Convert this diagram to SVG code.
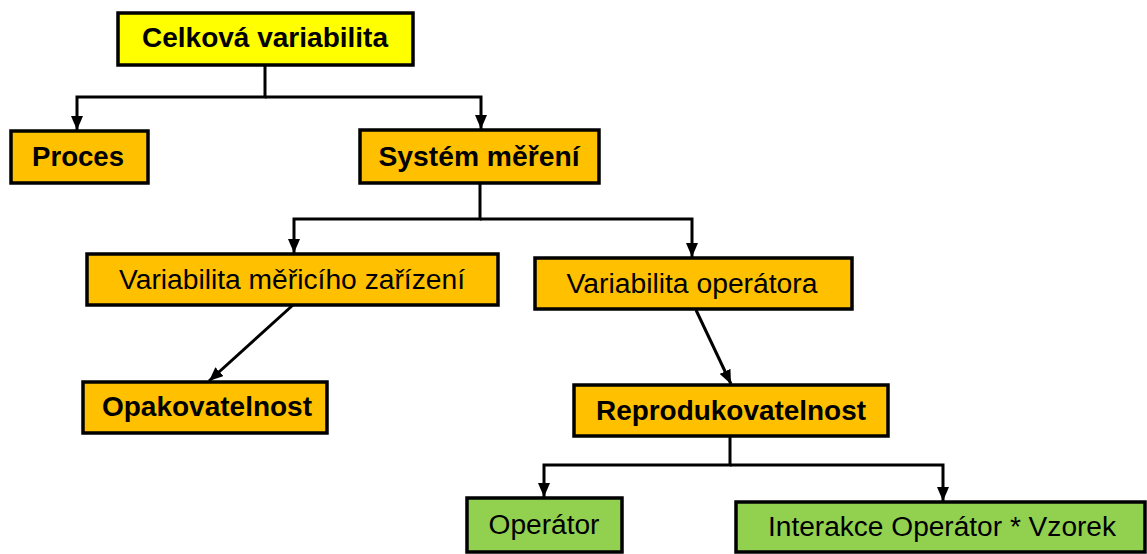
<svg xmlns="http://www.w3.org/2000/svg" width="1147" height="554" viewBox="0 0 1147 554">
<defs>
<style>
.box{stroke:#000;stroke-width:3.5}
.y{fill:#FFFF00}
.o{fill:#FFC000}
.g{fill:#92D050}
.t{font-family:"Liberation Sans",Arial,sans-serif;font-size:27px;fill:#000;text-anchor:middle}
.b{font-weight:bold}
.c{fill:none;stroke:#000;stroke-width:3}
</style>
<marker id="ah" viewBox="0 0 14 12" refX="14" refY="6" markerWidth="14" markerHeight="12" orient="auto" markerUnits="userSpaceOnUse">
<path d="M0,0 L14,6 L0,12 z" fill="#000"/>
</marker>
</defs>
<g id="connectors">
<path class="c" d="M265,65 V97 H77 V130" marker-end="url(#ah)"/>
<path class="c" d="M265,97 H481 V129" marker-end="url(#ah)"/>
<path class="c" d="M480,183 V219 H294 V253" marker-end="url(#ah)"/>
<path class="c" d="M480,219 H692 V257" marker-end="url(#ah)"/>
<path class="c" d="M293,305 L209,381" marker-end="url(#ah)"/>
<path class="c" d="M696,310 L731,384" marker-end="url(#ah)"/>
<path class="c" d="M730,436 V465 H544 V497" marker-end="url(#ah)"/>
<path class="c" d="M730,465 H943 V501" marker-end="url(#ah)"/>
</g>
<g id="celkova"><rect class="box y" x="118" y="13" width="295" height="52"/><text class="t b" x="265" y="47" textLength="246" lengthAdjust="spacingAndGlyphs">Celková variabilita</text></g>
<g id="proces"><rect class="box o" x="11" y="131" width="137" height="52"/><text class="t b" x="78" y="166" textLength="92" lengthAdjust="spacingAndGlyphs">Proces</text></g>
<g id="system"><rect class="box o" x="360" y="130" width="239" height="53"/><text class="t b" x="479" y="166" textLength="201" lengthAdjust="spacingAndGlyphs">Systém měření</text></g>
<g id="var-mer"><rect class="box o" x="87" y="254" width="411" height="51"/><text class="t" x="292" y="289" textLength="346" lengthAdjust="spacingAndGlyphs">Variabilita měřicího zařízení</text></g>
<g id="var-op"><rect class="box o" x="535" y="258" width="317" height="51"/><text class="t" x="692" y="293" textLength="251" lengthAdjust="spacingAndGlyphs">Variabilita operátora</text></g>
<g id="opak"><rect class="box o" x="83" y="382" width="244" height="51"/><text class="t b" x="207" y="416" textLength="210" lengthAdjust="spacingAndGlyphs">Opakovatelnost</text></g>
<g id="repro"><rect class="box o" x="574" y="385" width="314" height="51"/><text class="t b" x="731" y="420" textLength="270" lengthAdjust="spacingAndGlyphs">Reprodukovatelnost</text></g>
<g id="operator"><rect class="box g" x="467" y="498" width="155" height="54"/><text class="t" x="544" y="534" textLength="111" lengthAdjust="spacingAndGlyphs">Operátor</text></g>
<g id="interakce"><rect class="box g" x="736" y="502" width="409" height="50"/><text class="t" x="942" y="536" textLength="348" lengthAdjust="spacingAndGlyphs">Interakce Operátor * Vzorek</text></g>
</svg>
